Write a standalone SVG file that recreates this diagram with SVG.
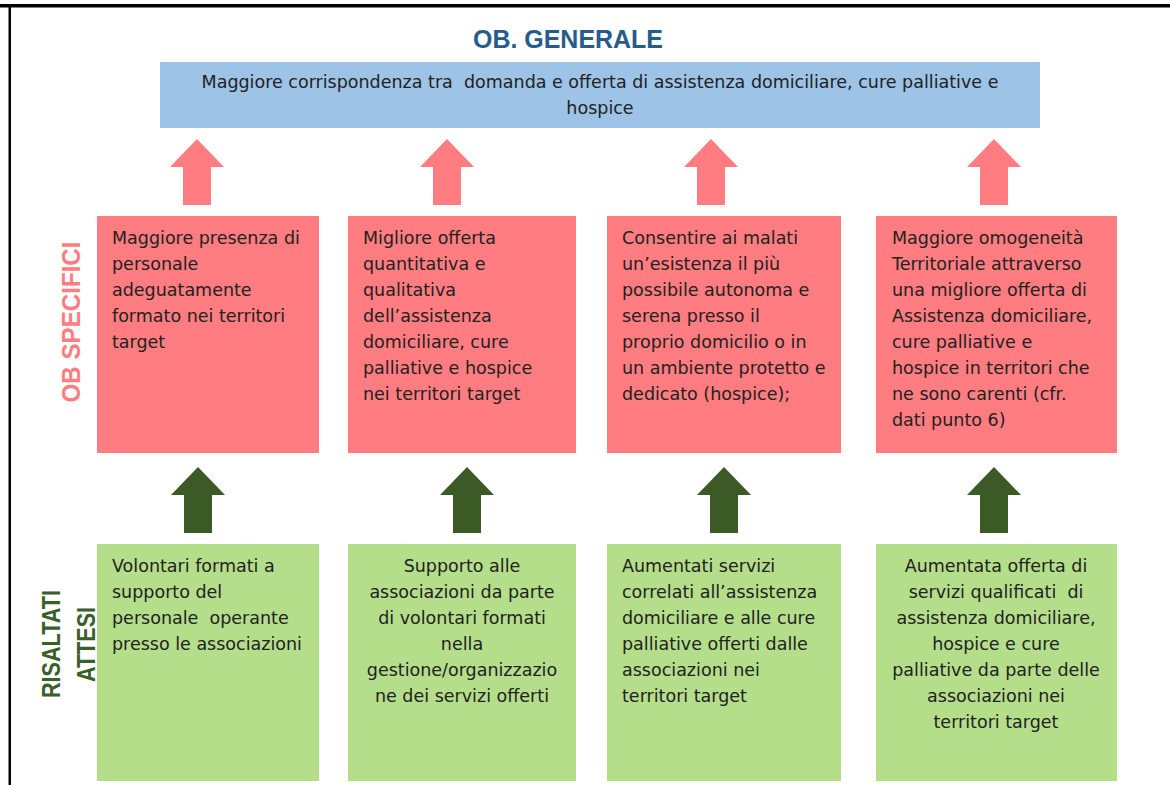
<svg xmlns="http://www.w3.org/2000/svg" xmlns:xlink="http://www.w3.org/1999/xlink" width="1170" height="785" viewBox="0 0 1170 785">
<style>
.t{font-family:"DejaVu Sans","Liberation Sans",sans-serif;font-size:17.5px;fill:#222}
.c{text-anchor:middle}
.lbl{font-family:"Liberation Sans",Arial,sans-serif;font-weight:bold;text-anchor:middle}
.blue{fill:#9DC3E6}
.pink{fill:#FF7C80}
.green{fill:#B5DE8B}
.pa{fill:#FF7C80}
.ga{fill:#3B5A25}
</style>
<defs>
<path id="up" d="M0,0 L27,28 L14,28 L14,66 L-14,66 L-14,28 L-27,28 Z"/>
</defs>
<rect width="1170" height="785" fill="#fff"/>
<g id="frame">
<rect x="0" y="4" width="1170" height="3.5" fill="#000"/>
<rect x="8.5" y="4" width="2.5" height="781" fill="#000"/>
</g>
<g id="labels">
<text class="lbl" x="568" y="48" font-size="26" fill="#265C8C" textLength="190" lengthAdjust="spacingAndGlyphs">OB. GENERALE</text>
<text class="lbl" transform="translate(80,322) rotate(-90)" font-size="26" fill="#FF7C80" textLength="161" lengthAdjust="spacingAndGlyphs">OB SPECIFICI</text>
<text class="lbl" transform="translate(60,644) rotate(-90)" font-size="25" fill="#3A5F28" textLength="108" lengthAdjust="spacingAndGlyphs">RISALTATI</text>
<text class="lbl" transform="translate(95,644.5) rotate(-90)" font-size="25" fill="#3A5F28" textLength="75" lengthAdjust="spacingAndGlyphs">ATTESI</text>
</g>
<g id="connectors">
<use xlink:href="#up" href="#up" class="pa" x="197" y="139"/>
<use xlink:href="#up" href="#up" class="pa" x="447" y="139"/>
<use xlink:href="#up" href="#up" class="pa" x="711" y="139"/>
<use xlink:href="#up" href="#up" class="pa" x="994" y="139"/>
<use xlink:href="#up" href="#up" class="ga" x="198" y="467"/>
<use xlink:href="#up" href="#up" class="ga" x="467" y="467"/>
<use xlink:href="#up" href="#up" class="ga" x="724" y="467"/>
<use xlink:href="#up" href="#up" class="ga" x="994" y="467"/>
</g>
<g id="ob-generale">
<rect class="blue" x="160" y="62" width="880" height="66"/>
<text class="t c" x="600" y="88" xml:space="preserve">Maggiore corrispondenza tra  domanda e offerta di assistenza domiciliare, cure palliative e</text>
<text class="t c" x="600" y="114">hospice</text>
</g>
<g id="os1">
<rect class="pink" x="97" y="216" width="222" height="237"/>
<text class="t" x="112" y="244">Maggiore presenza di</text>
<text class="t" x="112" y="270">personale</text>
<text class="t" x="112" y="296">adeguatamente</text>
<text class="t" x="112" y="322">formato nei territori</text>
<text class="t" x="112" y="348">target</text>
</g>
<g id="os2">
<rect class="pink" x="348" y="216" width="228" height="237"/>
<text class="t" x="363" y="244">Migliore offerta</text>
<text class="t" x="363" y="270">quantitativa e</text>
<text class="t" x="363" y="296">qualitativa</text>
<text class="t" x="363" y="322">dell’assistenza</text>
<text class="t" x="363" y="348">domiciliare, cure</text>
<text class="t" x="363" y="374">palliative e hospice</text>
<text class="t" x="363" y="400">nei territori target</text>
</g>
<g id="os3">
<rect class="pink" x="607" y="216" width="234" height="237"/>
<text class="t" x="622" y="244">Consentire ai malati</text>
<text class="t" x="622" y="270">un’esistenza il più</text>
<text class="t" x="622" y="296">possibile autonoma e</text>
<text class="t" x="622" y="322">serena presso il</text>
<text class="t" x="622" y="348">proprio domicilio o in</text>
<text class="t" x="622" y="374">un ambiente protetto e</text>
<text class="t" x="622" y="400">dedicato (hospice);</text>
</g>
<g id="os4">
<rect class="pink" x="876" y="216" width="241" height="237"/>
<text class="t" x="892" y="244">Maggiore omogeneità</text>
<text class="t" x="892" y="270">Territoriale attraverso</text>
<text class="t" x="892" y="296">una migliore offerta di</text>
<text class="t" x="892" y="322">Assistenza domiciliare,</text>
<text class="t" x="892" y="348">cure palliative e</text>
<text class="t" x="892" y="374">hospice in territori che</text>
<text class="t" x="892" y="400">ne sono carenti (cfr.</text>
<text class="t" x="892" y="426">dati punto 6)</text>
</g>
<g id="ra1">
<rect class="green" x="97" y="544" width="222" height="237"/>
<text class="t" x="112" y="572">Volontari formati a</text>
<text class="t" x="112" y="598">supporto del</text>
<text class="t" x="112" y="624" xml:space="preserve">personale  operante</text>
<text class="t" x="112" y="650">presso le associazioni</text>
</g>
<g id="ra2">
<rect class="green" x="348" y="544" width="228" height="237"/>
<text class="t c" x="462" y="572">Supporto alle</text>
<text class="t c" x="462" y="598">associazioni da parte</text>
<text class="t c" x="462" y="624">di volontari formati</text>
<text class="t c" x="462" y="650">nella</text>
<text class="t c" x="462" y="676">gestione/organizzazio</text>
<text class="t c" x="462" y="702">ne dei servizi offerti</text>
</g>
<g id="ra3">
<rect class="green" x="607" y="544" width="234" height="237"/>
<text class="t" x="622" y="572">Aumentati servizi</text>
<text class="t" x="622" y="598">correlati all’assistenza</text>
<text class="t" x="622" y="624">domiciliare e alle cure</text>
<text class="t" x="622" y="650">palliative offerti dalle</text>
<text class="t" x="622" y="676">associazioni nei</text>
<text class="t" x="622" y="702">territori target</text>
</g>
<g id="ra4">
<rect class="green" x="876" y="544" width="241" height="237"/>
<text class="t c" x="996" y="572">Aumentata offerta di</text>
<text class="t c" x="996" y="598" xml:space="preserve">servizi qualificati  di</text>
<text class="t c" x="996" y="624">assistenza domiciliare,</text>
<text class="t c" x="996" y="650">hospice e cure</text>
<text class="t c" x="996" y="676">palliative da parte delle</text>
<text class="t c" x="996" y="702">associazioni nei</text>
<text class="t c" x="996" y="728">territori target</text>
</g>
</svg>
